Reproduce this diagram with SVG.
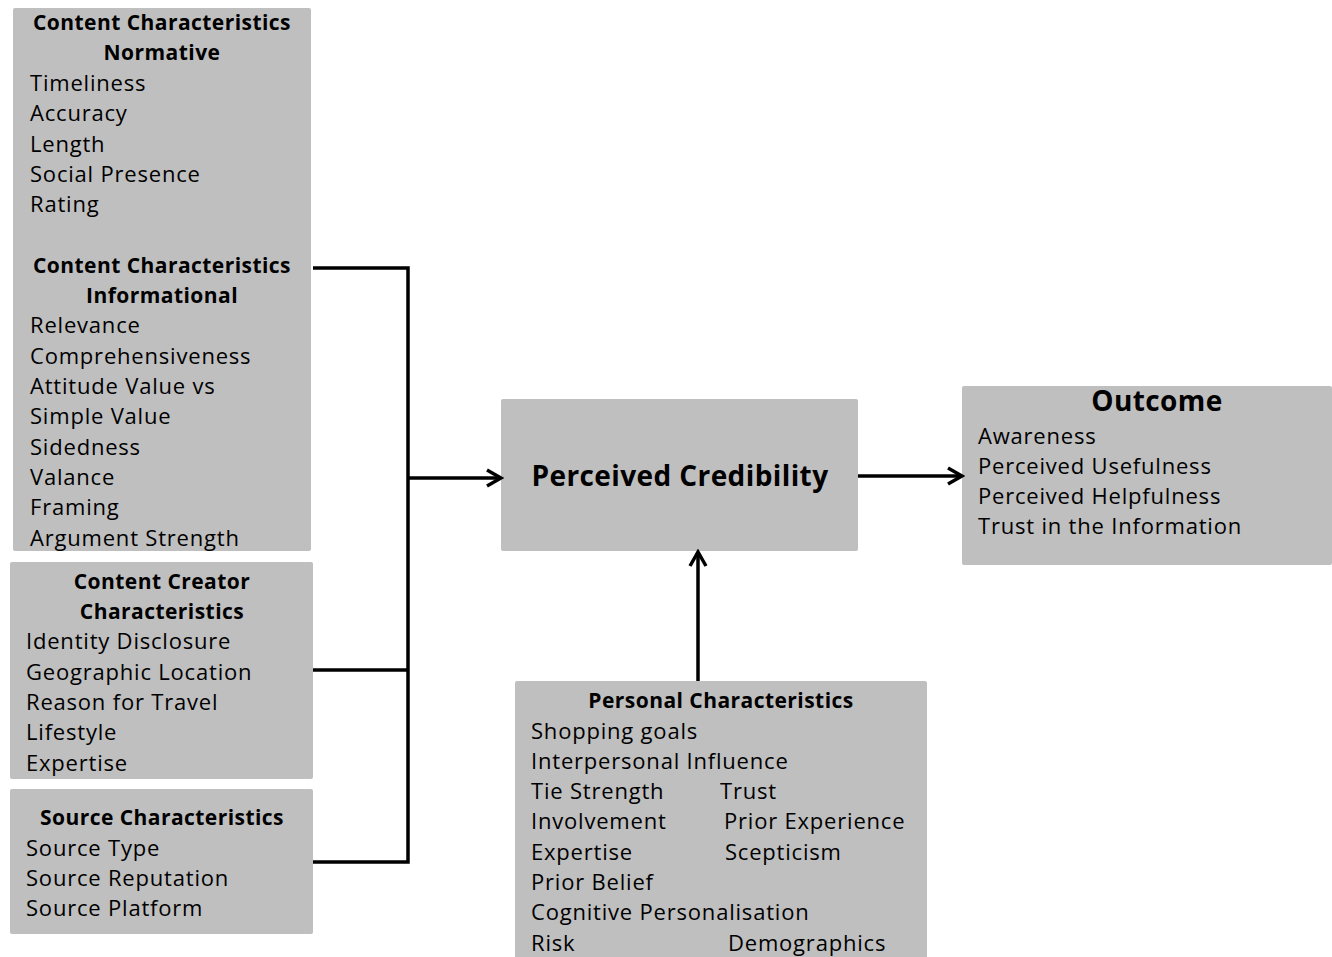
<svg xmlns="http://www.w3.org/2000/svg" width="1332" height="957" viewBox="0 0 1332 957">
  <style>
    .box { fill: #bfbfbf; }
    text { font-family: "Open Sans", "Liberation Sans", sans-serif; fill: #000; }
    .item { font-size: 22px; letter-spacing: 0.8px; }
    .head { font-size: 21px; font-weight: bold; letter-spacing: 0.45px; text-anchor: middle; }
    .big { font-size: 28px; font-weight: bold; letter-spacing: 0.4px; text-anchor: middle; }
    .wire { fill: none; stroke: #000; stroke-width: 3.5; stroke-linejoin: miter; }
  </style>
  <defs>
    <marker id="chev" viewBox="0 0 20 20" refX="17" refY="10" markerWidth="20" markerHeight="20" markerUnits="userSpaceOnUse" orient="auto">
      <path d="M3,2 L17,10 L3,18" fill="none" stroke="#000" stroke-width="3.5"/>
    </marker>
  </defs>
  <rect width="1332" height="957" fill="#fff"/>

  <g id="content-characteristics">
    <rect class="box" x="13" y="8" width="298" height="543" rx="2"/>
    <text class="head" x="162" y="30">Content Characteristics</text>
    <text class="head" x="162" y="60">Normative</text>
    <text class="item" x="30" y="91">Timeliness</text>
    <text class="item" x="30" y="121">Accuracy</text>
    <text class="item" x="30" y="152">Length</text>
    <text class="item" x="30" y="182">Social Presence</text>
    <text class="item" x="30" y="212">Rating</text>
    <text class="head" x="162" y="273">Content Characteristics</text>
    <text class="head" x="162" y="303">Informational</text>
    <text class="item" x="30" y="333">Relevance</text>
    <text class="item" x="30" y="364">Comprehensiveness</text>
    <text class="item" x="30" y="394">Attitude Value vs</text>
    <text class="item" x="30" y="424">Simple Value</text>
    <text class="item" x="30" y="455">Sidedness</text>
    <text class="item" x="30" y="485">Valance</text>
    <text class="item" x="30" y="515">Framing</text>
    <text class="item" x="30" y="546">Argument Strength</text>
  </g>

  <g id="content-creator">
    <rect class="box" x="10" y="562" width="303" height="217" rx="2"/>
    <text class="head" x="162" y="589">Content Creator</text>
    <text class="head" x="162" y="619">Characteristics</text>
    <text class="item" x="26" y="649">Identity Disclosure</text>
    <text class="item" x="26" y="680">Geographic Location</text>
    <text class="item" x="26" y="710">Reason for Travel</text>
    <text class="item" x="26" y="740">Lifestyle</text>
    <text class="item" x="26" y="771">Expertise</text>
  </g>

  <g id="source">
    <rect class="box" x="10" y="789" width="303" height="145" rx="2"/>
    <text class="head" x="162" y="825">Source Characteristics</text>
    <text class="item" x="26" y="856">Source Type</text>
    <text class="item" x="26" y="886">Source Reputation</text>
    <text class="item" x="26" y="916">Source Platform</text>
  </g>

  <g id="perceived-credibility">
    <rect class="box" x="501" y="399" width="357" height="152" rx="2"/>
    <text class="big" x="680" y="486">Perceived Credibility</text>
  </g>

  <g id="outcome">
    <rect class="box" x="962" y="386" width="370" height="179" rx="2"/>
    <text class="big" x="1157" y="411">Outcome</text>
    <text class="item" x="978" y="444">Awareness</text>
    <text class="item" x="978" y="474">Perceived Usefulness</text>
    <text class="item" x="978" y="504">Perceived Helpfulness</text>
    <text class="item" x="978" y="534">Trust in the Information</text>
  </g>

  <g id="personal">
    <rect class="box" x="515" y="681" width="412" height="280" rx="2"/>
    <text class="head" x="721" y="708">Personal Characteristics</text>
    <text class="item" x="531" y="739">Shopping goals</text>
    <text class="item" x="531" y="769">Interpersonal Influence</text>
    <text class="item" x="531" y="799">Tie Strength</text>
    <text class="item" x="720" y="799">Trust</text>
    <text class="item" x="531" y="829">Involvement</text>
    <text class="item" x="724" y="829">Prior Experience</text>
    <text class="item" x="531" y="860">Expertise</text>
    <text class="item" x="725" y="860">Scepticism</text>
    <text class="item" x="531" y="890">Prior Belief</text>
    <text class="item" x="531" y="920">Cognitive Personalisation</text>
    <text class="item" x="531" y="951">Risk</text>
    <text class="item" x="728" y="951">Demographics</text>
  </g>

  <g id="connectors">
    <path class="wire" d="M313,268 H408 V862 H313"/>
    <path class="wire" d="M313,670 H408"/>
    <path class="wire" d="M408,478 H501" marker-end="url(#chev)"/>
    <path class="wire" d="M858,476 H962" marker-end="url(#chev)"/>
    <path class="wire" d="M698,681 V552" marker-end="url(#chev)"/>
  </g>
</svg>
